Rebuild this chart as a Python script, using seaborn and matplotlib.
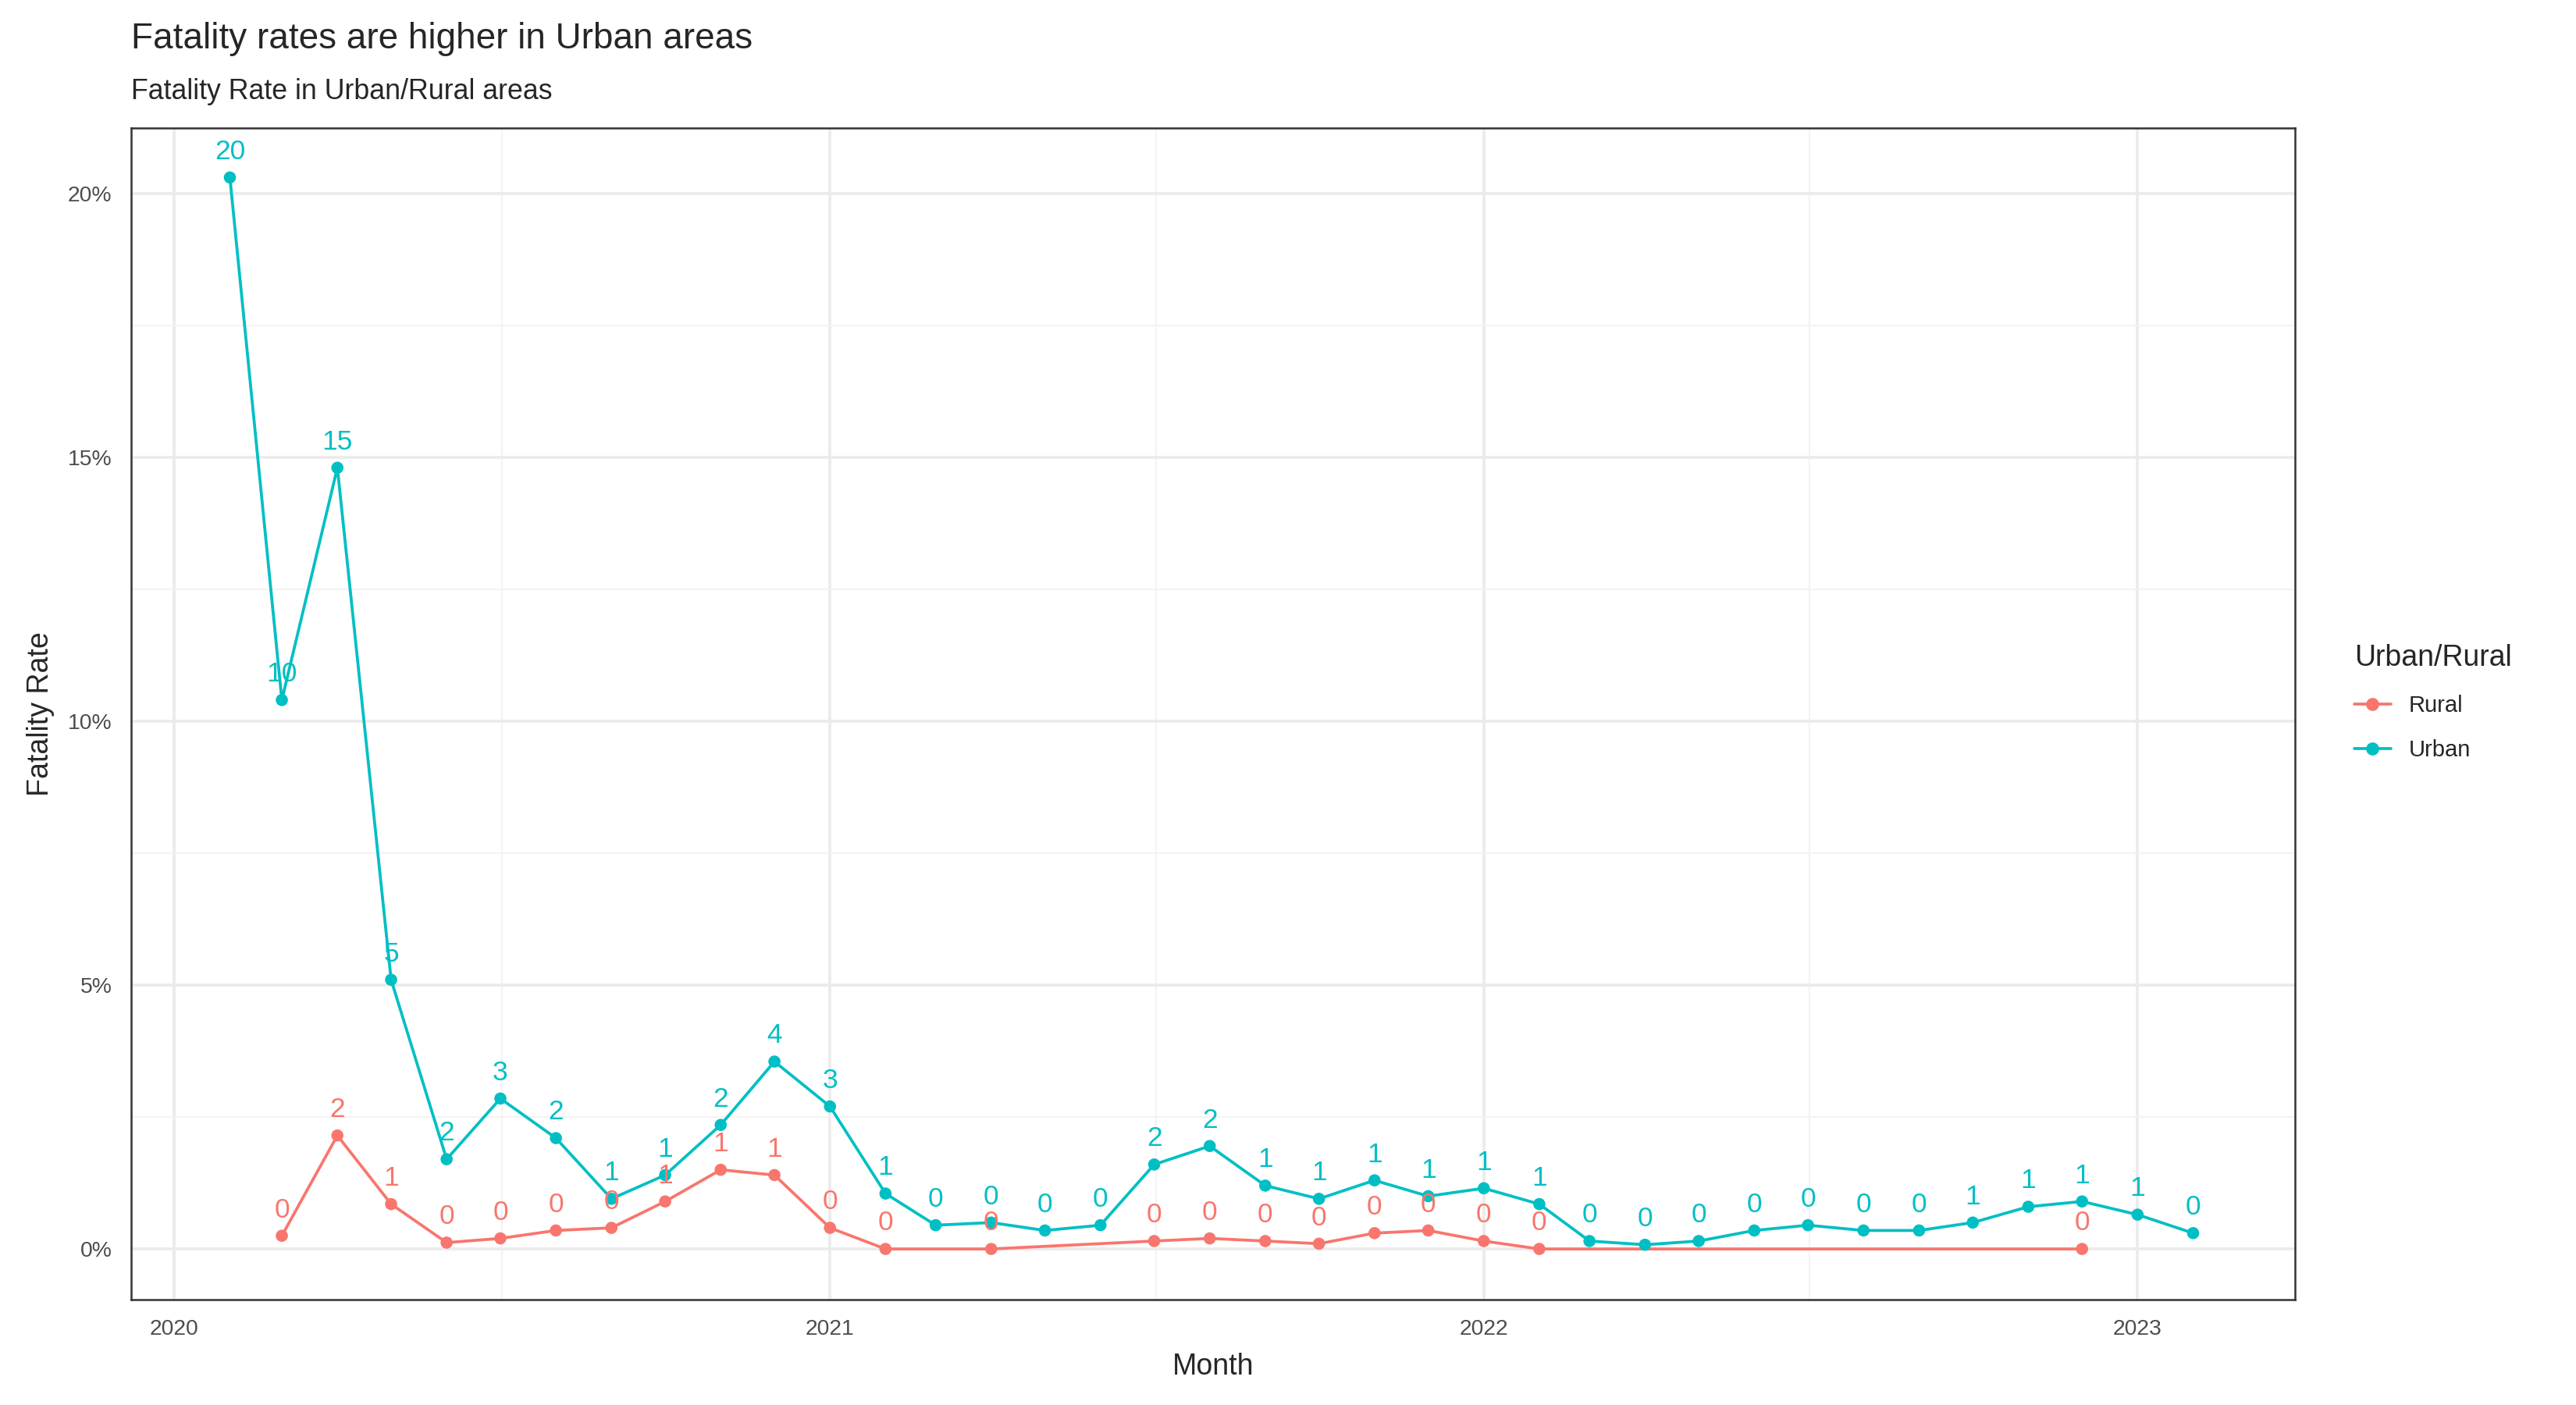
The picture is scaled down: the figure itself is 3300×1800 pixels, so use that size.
import pandas as pd
import numpy as np
import seaborn as sns
import matplotlib.pyplot as plt
import matplotlib.dates as mdates
from matplotlib.lines import Line2D

urban_months = pd.date_range("2020-02-01", "2023-02-01", freq="MS")
urban_rate = [20.3, 10.4, 14.8, 5.1, 1.7, 2.85, 2.1, 0.95, 1.4, 2.35, 3.55, 2.7,
              1.05, 0.45, 0.5, 0.35, 0.45, 1.6, 1.95, 1.2, 0.95, 1.3, 1.0, 1.15,
              0.85, 0.15, 0.08, 0.15, 0.35, 0.45, 0.35, 0.35, 0.5, 0.8, 0.9, 0.65, 0.3]
urban_lab = ["20", "10", "15", "5", "2", "3", "2", "1", "1", "2", "4", "3",
             "1", "0", "0", "0", "0", "2", "2", "1", "1", "1", "1", "1",
             "1", "0", "0", "0", "0", "0", "0", "0", "1", "1", "1", "1", "0"]

rural_months = pd.to_datetime(["2020-03-01", "2020-04-01", "2020-05-01", "2020-06-01",
                               "2020-07-01", "2020-08-01", "2020-09-01", "2020-10-01",
                               "2020-11-01", "2020-12-01", "2021-01-01", "2021-02-01",
                               "2021-04-01", "2021-07-01", "2021-08-01", "2021-09-01",
                               "2021-10-01", "2021-11-01", "2021-12-01", "2022-01-01",
                               "2022-02-01", "2022-12-01"])
rural_rate = [0.25, 2.15, 0.85, 0.12, 0.2, 0.35, 0.4, 0.9, 1.5, 1.4, 0.4, 0.0,
              0.0, 0.15, 0.2, 0.15, 0.1, 0.3, 0.35, 0.15, 0.0, 0.0]
rural_lab = ["0", "2", "1", "0", "0", "0", "0", "1", "1", "1", "0", "0",
             "0", "0", "0", "0", "0", "0", "0", "0", "0", "0"]

df = pd.concat([
    pd.DataFrame({"Month": rural_months, "rate": rural_rate, "lab": rural_lab, "Urban/Rural": "Rural"}),
    pd.DataFrame({"Month": urban_months, "rate": urban_rate, "lab": urban_lab, "Urban/Rural": "Urban"}),
])
pal = {"Rural": "#F8766D", "Urban": "#00BFC4"}

sns.set_style("white")
plt.rcParams['font.family'] = ['Liberation Sans', 'DejaVu Sans']
fig = plt.figure(figsize=(11, 6), dpi=300)
ax = fig.add_axes([0.051, 0.075, 0.84, 0.834])

sns.lineplot(data=df, x="Month", y="rate", hue="Urban/Rural", palette=pal, lw=0.9, ax=ax, legend=False)
sns.scatterplot(data=df, x="Month", y="rate", hue="Urban/Rural", palette=pal, s=14,
                edgecolor="none", ax=ax, legend=False, zorder=3)
for _, r in df.iterrows():
    ax.annotate(r["lab"], (r["Month"], r["rate"]), xytext=(0, 4), textcoords="offset points",
                ha="center", va="bottom", fontsize=8.5, color=pal[r["Urban/Rural"]])

ax.set_xlim(mdates.date2num(pd.Timestamp("2020-01-01")) - 24, mdates.date2num(pd.Timestamp("2023-01-01")) + 88)
ax.set_ylim(-0.96, 21.24)
ax.set_yticks([0, 5, 10, 15, 20])
ax.set_yticklabels(["0%", "5%", "10%", "15%", "20%"])
ax.set_yticks([2.5, 7.5, 12.5, 17.5], minor=True)
years = [pd.Timestamp(f"{y}-01-01") for y in range(2020, 2024)]
ax.set_xticks(years)
ax.set_xticklabels([str(y.year) for y in years])
ax.set_xticks([pd.Timestamp(f"{y}-07-02") for y in range(2020, 2023)], minor=True)
ax.grid(which="major", color="#EBEBEB", lw=0.9)
ax.grid(which="minor", color="#F3F3F3", lw=0.5)
ax.set_axisbelow(True)
for s in ax.spines.values():
    s.set_color("#333333"); s.set_linewidth(0.6)
ax.tick_params(which="major", length=2.5, width=0.5, color="#333333", labelsize=6.8, labelcolor="#4D4D4D")
ax.tick_params(which="minor", length=0)
ax.set_xlabel("Month", fontsize=9)
ax.set_ylabel("Fatality Rate", fontsize=9)

fig.text(0.051, 0.96, "Fatality rates are higher in Urban areas", fontsize=11, va="bottom")
fig.text(0.051, 0.925, "Fatality Rate in Urban/Rural areas", fontsize=8.6, va="bottom")

handles = [Line2D([0], [0], color=pal[k], marker="o", ms=3, lw=0.9) for k in ["Rural", "Urban"]]
leg = fig.legend(handles, ["Rural", "Urban"], title="Urban/Rural", loc="center left",
                 bbox_to_anchor=(0.906, 0.5), frameon=False, fontsize=7, title_fontsize=9,
                 handlelength=1.6, labelspacing=1.0)
leg._legend_box.align = "left"

fig.savefig("out.png", dpi=300, facecolor="white")
